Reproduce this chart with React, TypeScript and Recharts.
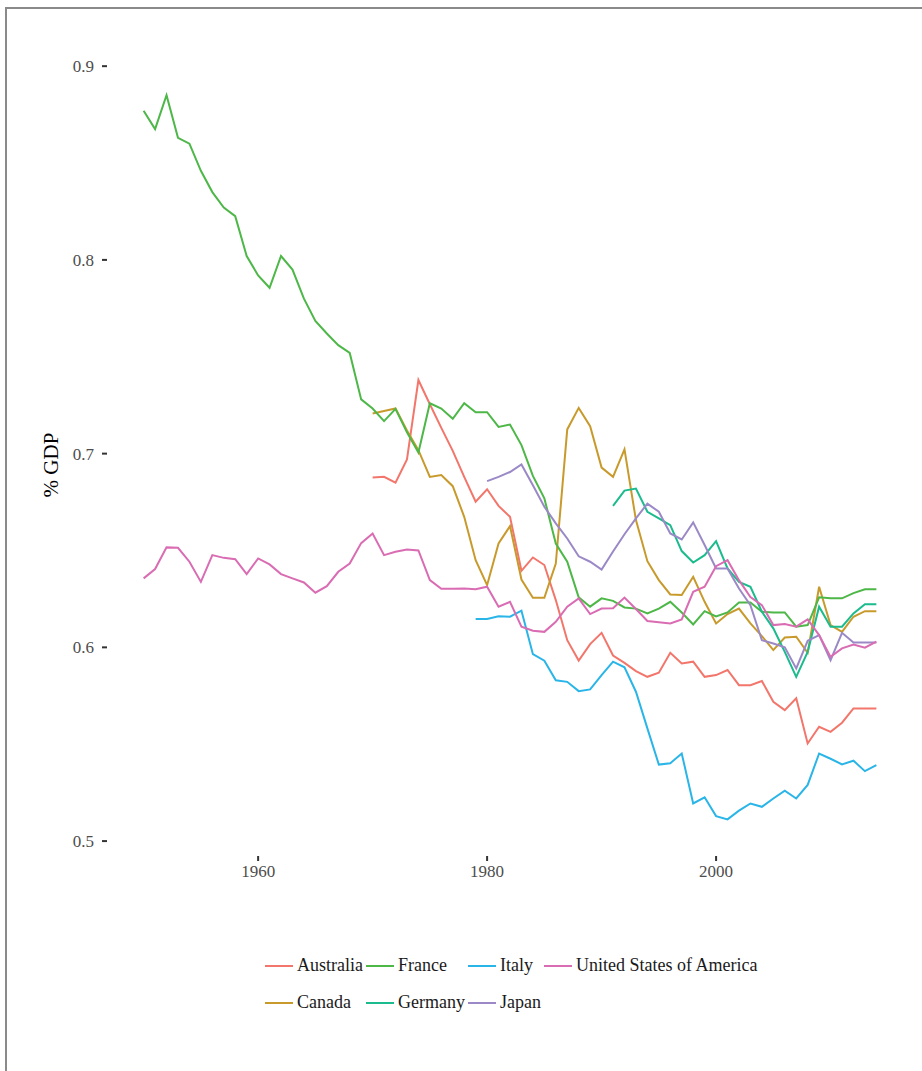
import React from "react";
import { LineChart, Line, XAxis, YAxis } from "recharts";

const years: number[] = Array.from({ length: 65 }, (_, i) => 1950 + i);

const australiaStart = 1970;
const australia = [0.6877, 0.688, 0.685, 0.697, 0.738, 0.7255, 0.7133, 0.7014, 0.688, 0.6752, 0.6816, 0.673, 0.6674, 0.6395, 0.6464, 0.6425, 0.6244, 0.6037, 0.5932, 0.6017, 0.6075, 0.5958, 0.592, 0.5877, 0.5848, 0.5869, 0.5972, 0.5917, 0.5926, 0.5848, 0.5857, 0.5883, 0.5805, 0.5805, 0.5826, 0.5719, 0.5676, 0.5737, 0.5504, 0.559, 0.5564, 0.5611, 0.5685, 0.5685, 0.5685];

const canadaStart = 1970;
const canada = [0.7207, 0.722, 0.7233, 0.712, 0.7018, 0.688, 0.6889, 0.6832, 0.6674, 0.645, 0.6321, 0.6536, 0.6626, 0.635, 0.6256, 0.6256, 0.6433, 0.7125, 0.7236, 0.7142, 0.6928, 0.688, 0.7022, 0.6657, 0.6445, 0.6347, 0.6273, 0.627, 0.6364, 0.6235, 0.6123, 0.6172, 0.62, 0.6124, 0.6058, 0.5986, 0.6051, 0.6055, 0.5972, 0.6313, 0.6115, 0.608, 0.6158, 0.6187, 0.6187];

const franceStart = 1950;
const france = [0.877, 0.8675, 0.885, 0.863, 0.86, 0.846, 0.835, 0.827, 0.8226, 0.802, 0.792, 0.7856, 0.802, 0.795, 0.78, 0.7685, 0.762, 0.756, 0.752, 0.728, 0.7233, 0.7168, 0.7231, 0.711, 0.7006, 0.726, 0.7233, 0.718, 0.726, 0.7213, 0.7214, 0.7138, 0.715, 0.7044, 0.6885, 0.6769, 0.6536, 0.6442, 0.6258, 0.621, 0.6253, 0.624, 0.6206, 0.62, 0.6175, 0.62, 0.6235, 0.618, 0.6118, 0.6187, 0.616, 0.618, 0.6232, 0.6232, 0.6184, 0.618, 0.618, 0.6107, 0.6115, 0.6258, 0.6253, 0.6253, 0.628, 0.63, 0.63];

const germanyStart = 1991;
const germany = [0.673, 0.6809, 0.682, 0.67, 0.6666, 0.6631, 0.6497, 0.6438, 0.6476, 0.6548, 0.6407, 0.6338, 0.6313, 0.6184, 0.6098, 0.5977, 0.5848, 0.5977, 0.621, 0.6107, 0.6107, 0.6175, 0.6223, 0.6223];

const italyStart = 1979;
const italy = [0.6146, 0.6146, 0.6161, 0.6158, 0.6189, 0.5965, 0.5931, 0.583, 0.5822, 0.5774, 0.5783, 0.5857, 0.5926, 0.5897, 0.5771, 0.5582, 0.5395, 0.5402, 0.5452, 0.5194, 0.5226, 0.5129, 0.5112, 0.5157, 0.5194, 0.5177, 0.522, 0.526, 0.522, 0.529, 0.5452, 0.5425, 0.5396, 0.5415, 0.5361, 0.5392];

const japanStart = 1980;
const japan = [0.6858, 0.688, 0.6905, 0.6944, 0.6837, 0.6726, 0.664, 0.6562, 0.647, 0.6442, 0.6402, 0.6495, 0.6584, 0.6666, 0.6742, 0.67, 0.6588, 0.6557, 0.6645, 0.6528, 0.6407, 0.6407, 0.6304, 0.6218, 0.6037, 0.602, 0.6, 0.5891, 0.6034, 0.6063, 0.5934, 0.6075, 0.6025, 0.6025, 0.6025];

const usaStart = 1950;
const usa = [0.6356, 0.6404, 0.6516, 0.6514, 0.6442, 0.6338, 0.6476, 0.6462, 0.6455, 0.6378, 0.6459, 0.6428, 0.6378, 0.6356, 0.6335, 0.6282, 0.6316, 0.639, 0.6433, 0.6538, 0.6588, 0.6476, 0.6493, 0.6505, 0.65, 0.6347, 0.6302, 0.6302, 0.6304, 0.63, 0.6313, 0.621, 0.6235, 0.6107, 0.6086, 0.608, 0.6132, 0.621, 0.6253, 0.6172, 0.62, 0.6202, 0.6257, 0.6198, 0.6136, 0.6129, 0.6123, 0.6144, 0.6287, 0.6313, 0.6419, 0.645, 0.6347, 0.626, 0.6218, 0.6115, 0.612, 0.6107, 0.6144, 0.6063, 0.5951, 0.5995, 0.6015, 0.5998, 0.6029];

const xTicks = [1960, 1980, 2000];
const yTicks = [0.5, 0.6, 0.7, 0.8, 0.9];

type Series = { key: string; name: string; start: number; values: number[]; color: string };

const series: Series[] = [
  { key: "australia", name: "Australia", start: australiaStart, values: australia, color: "#F2766B" },
  { key: "canada", name: "Canada", start: canadaStart, values: canada, color: "#C89A2C" },
  { key: "france", name: "France", start: franceStart, values: france, color: "#4DB748" },
  { key: "germany", name: "Germany", start: germanyStart, values: germany, color: "#1BBB8D" },
  { key: "italy", name: "Italy", start: italyStart, values: italy, color: "#2AB5E8" },
  { key: "japan", name: "Japan", start: japanStart, values: japan, color: "#9A89C6" },
  { key: "usa", name: "United States of America", start: usaStart, values: usa, color: "#D96CB2" },
];

const data = years.map((year) => {
  const row: Record<string, number | null> = { year };
  series.forEach((s) => {
    const idx = year - s.start;
    row[s.key] = idx >= 0 && idx < s.values.length ? s.values[idx] : null;
  });
  return row;
});

const legendColumns: string[][] = [
  ["australia", "canada"],
  ["france", "germany"],
  ["italy", "japan"],
  ["usa"],
];

const FONT = "'Liberation Serif', 'Times New Roman', serif";

function LegendBox() {
  return (
    <div
      style={{
        position: "absolute",
        left: 265,
        top: 947,
        display: "flex",
        flexDirection: "row",
        fontFamily: FONT,
        fontSize: 18,
        color: "#1a1a1a",
      }}
    >
      {legendColumns.map((col, ci) => (
        <div key={ci} style={{ display: "flex", flexDirection: "column", marginRight: 3 }}>
          {col.map((k) => {
            const s = series.find((x) => x.key === k)!;
            return (
              <div key={k} style={{ display: "flex", alignItems: "center", height: 37 }}>
                <div style={{ width: 28, height: 2, background: s.color, marginRight: 4 }} />
                <span style={{ whiteSpace: "nowrap" }}>{s.name}</span>
              </div>
            );
          })}
        </div>
      ))}
    </div>
  );
}

export default function App() {
  return (
    <div
      style={{
        position: "absolute",
        left: 0,
        top: 0,
        width: 922,
        height: 1071,
        overflow: "hidden",
        background: "#ffffff",
      }}
    >
      <div
        style={{
          position: "absolute",
          left: 5,
          top: 7,
          width: 1000,
          height: 1100,
          borderLeft: "2px solid #8a8a8a",
          borderTop: "2px solid #8a8a8a",
        }}
      />
      <div style={{ position: "absolute", left: 0, top: 0 }}>
        <LineChart
          width={922}
          height={1071}
          data={data}
          margin={{ top: 59, right: 9, bottom: 185, left: 0 }}
        >
          <XAxis
            dataKey="year"
            type="number"
            domain={[1946.8, 2017.2]}
            ticks={xTicks}
            axisLine={false}
            tickSize={5}
            tickMargin={4}
            height={30}
            tickLine={{ stroke: "#333333", strokeWidth: 2 }}
            tick={{ fill: "#4d4d4d", fontSize: 17, fontFamily: FONT }}
          />
          <YAxis
            type="number"
            domain={[0.4923, 0.9037]}
            ticks={yTicks}
            width={107}
            axisLine={false}
            tickSize={5}
            tickMargin={8}
            tickLine={{ stroke: "#333333", strokeWidth: 2 }}
            tick={{ fill: "#4d4d4d", fontSize: 17, fontFamily: FONT }}
            tickFormatter={(v: number) => v.toFixed(1)}
            label={{
              content: () => (
                <text
                  transform="translate(58,465) rotate(-90)"
                  textAnchor="middle"
                  fontFamily={FONT}
                  fontSize={21}
                  fill="#000000"
                >
                  % GDP
                </text>
              ),
            }}
          />
          {series.map((s) => (
            <Line
              key={s.key}
              dataKey={s.key}
              name={s.name}
              type="linear"
              stroke={s.color}
              strokeWidth={2}
              dot={false}
              activeDot={false}
              connectNulls={false}
              isAnimationActive={false}
            />
          ))}
        </LineChart>
      </div>
      <LegendBox />
    </div>
  );
}
